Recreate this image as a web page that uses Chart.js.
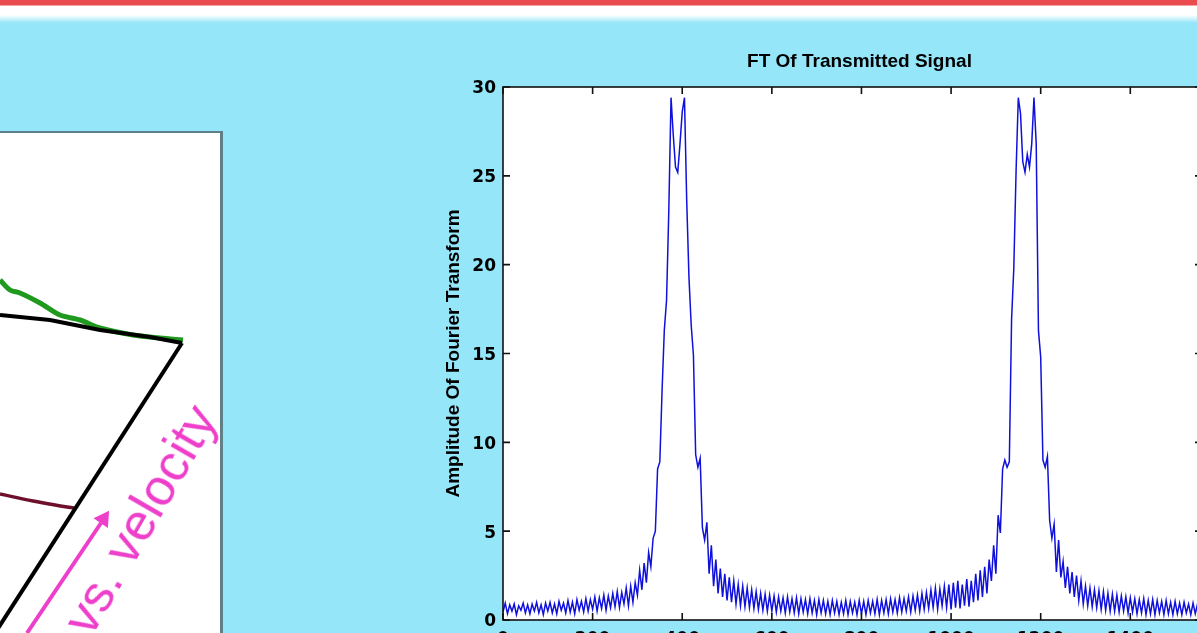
<!DOCTYPE html>
<html>
<head>
<meta charset="utf-8">
<script src="https://cdn.jsdelivr.net/npm/chart.js@4.4.1/dist/chart.umd.min.js"></script>
<style>
  html, body { margin: 0; padding: 0; width: 1197px; height: 633px; overflow: hidden; background: #95e6f9; }
  body { position: relative; font-family: 'Liberation Sans', Arial, sans-serif; }
  #topbar { position: absolute; left: 0; top: 0; width: 1197px; height: 24px;
    background: linear-gradient(#e94b4f 0, #e94b4f 5px, #ffffff 6px, #ffffff 15px, #95e6f9 23px); }
  #sketchBox { position: absolute; left: -10px; top: 131px; width: 230px; height: 520px; background: #fff;
    border-top: 2px solid #5f8089; border-right: 3px solid #5f8089; }
  #sketch { position: absolute; left: 0; top: 133px; }
  #velocity { position: absolute; left: 53px; top: 616px; transform-origin: 0 0; transform: rotate(-60deg);
    font: 52px 'Liberation Sans', Arial, sans-serif; line-height: 1; color: #ee3fcb; white-space: nowrap; }
  #fft { position: absolute; left: 420px; top: 41px; }
</style>
</head>
<body>
<div id="topbar"></div>
<div id="sketchBox"></div>
<canvas id="sketch" width="220" height="500"></canvas>
<div id="velocity">vs. velocity</div>
<canvas id="fft" width="800" height="619"></canvas>

<script>
// FT of transmitted signal, one value every 5 bins
const binStep = 5;
const amplitude = [
  0.45,0.95,0.35,0.85,0.5,0.9,0.3,0.8,0.55,0.95,
  0.4,0.85,0.35,0.9,0.5,1.0,0.4,0.85,0.3,0.95,
  0.5,1.0,0.4,0.9,0.35,1.05,0.55,0.95,0.4,1.1,
  0.45,1.0,0.35,1.15,0.55,1.05,0.45,1.2,0.5,1.15,
  0.6,1.3,0.5,1.25,0.65,1.4,0.55,1.35,0.7,1.5,
  0.75,1.6,0.7,1.55,0.9,1.8,0.8,1.9,1.0,2.1,
  1.4,2.8,1.7,3.2,2.1,3.8,3.0,4.6,5.0,8.5,
  8.9,12.9,16.3,18.0,23.0,29.4,27.3,25.5,25.2,26.8,
  28.6,29.4,23.6,19.3,16.6,14.9,9.3,8.6,9.1,5.2,
  4.5,5.5,2.6,4.2,1.9,3.4,1.5,2.9,1.3,2.6,
  1.1,2.4,1.0,2.2,0.9,2.0,0.8,1.9,0.75,1.8,
  0.7,1.7,0.65,1.6,0.6,1.5,0.55,1.45,0.5,1.4,
  0.5,1.35,0.45,1.3,0.5,1.25,0.4,1.3,0.45,1.2,
  0.4,1.25,0.35,1.2,0.45,1.15,0.35,1.2,0.4,1.1,
  0.3,1.15,0.4,1.1,0.35,1.05,0.3,1.1,0.4,1.05,
  0.3,1.0,0.35,1.1,0.3,1.05,0.4,1.0,0.3,1.1,
  0.35,1.05,0.3,1.1,0.4,1.05,0.35,1.15,0.3,1.1,
  0.4,1.15,0.35,1.2,0.45,1.15,0.4,1.25,0.45,1.2,
  0.5,1.3,0.45,1.35,0.55,1.4,0.5,1.5,0.6,1.55,
  0.65,1.7,0.7,1.8,0.6,1.75,0.8,1.9,0.7,2.0,
  0.6,2.1,0.7,2.2,0.65,2.0,0.8,2.3,0.75,2.2,
  1.0,2.6,1.1,2.8,1.3,3.0,1.5,3.4,2.2,4.2,
  2.6,5.9,4.9,8.5,9.0,8.6,8.9,16.9,19.8,25.2,
  29.4,28.5,25.8,25.2,26.2,25.5,26.8,29.4,26.8,16.3,
  14.8,9.0,8.6,9.2,5.6,4.6,5.4,2.7,4.5,2.4,
  3.3,1.8,3.0,1.5,2.7,1.3,2.5,1.1,2.2,0.9,
  1.9,0.8,1.8,0.75,1.7,0.7,1.65,0.6,1.6,0.55,
  1.5,0.5,1.45,0.5,1.4,0.45,1.35,0.5,1.3,0.4,
  1.25,0.45,1.2,0.35,1.15,0.4,1.2,0.3,1.1,0.35,
  1.15,0.3,1.1,0.4,1.05,0.3,1.1,0.35,1.0,0.3,
  1.05,0.35,0.95,0.3,1.0,0.4,0.9,0.3,0.95,0.35,
  0.9,0.4
];
const xTickValues = [0, 200, 400, 600, 800, 1000, 1200, 1400];
const yTickValues = [0, 5, 10, 15, 20, 25, 30];

// the cut-off sketch on the left of the slide (x right, y up, in panel pixels)
const greenX = [0, 10, 20, 40, 60, 80, 100, 133, 160, 183];
const greenY = [353, 343, 340, 330, 318, 313, 305, 298, 295, 293];
const blackTopX = [0, 50, 100, 150, 182];
const blackTopY = [318, 313, 303, 296, 290];
const blackDiagX = [182, -5];
const blackDiagY = [290, 0];
const redX = [0, 33, 55, 74];
const redY = [139, 132, 128, 125];
const arrowX = [27, 101];
const arrowY = [0, 110];
const arrowHead = { x: 103.5, y: 114 };

const fontFamily = "'Liberation Sans', Arial, sans-serif";
const tickFamily = "'DejaVu Sans', 'Liberation Sans', sans-serif";

const toPoints = (xs, ys) => xs.map((x, i) => ({ x: x, y: ys[i] }));

// white plot box, black frame, ticks pointing inwards, title over the box
const matlabFrame = {
    id: 'matlabFrame',
    beforeDatasetsDraw(chart) {
        const { ctx, chartArea: a } = chart;
        ctx.save();
        ctx.fillStyle = '#ffffff';
        ctx.fillRect(a.left, a.top, a.right - a.left, a.bottom - a.top);
        ctx.restore();
    },
    afterDatasetsDraw(chart) {
        const { ctx, chartArea: a, scales } = chart;
        const len = 7;
        ctx.save();
        ctx.strokeStyle = '#111111';
        ctx.lineWidth = 1.6;
        ctx.strokeRect(a.left, a.top, a.right - a.left, a.bottom - a.top);
        ctx.beginPath();
        scales.x.ticks.forEach(t => {
            const px = scales.x.getPixelForValue(t.value);
            ctx.moveTo(px, a.bottom); ctx.lineTo(px, a.bottom - len);
            ctx.moveTo(px, a.top); ctx.lineTo(px, a.top + len);
        });
        scales.y.ticks.forEach(t => {
            const py = scales.y.getPixelForValue(t.value);
            ctx.moveTo(a.left, py); ctx.lineTo(a.left + len, py);
            ctx.moveTo(a.right, py); ctx.lineTo(a.right - len, py);
        });
        ctx.stroke();

        ctx.fillStyle = '#000';
        ctx.font = 'bold 19px ' + fontFamily;
        ctx.textAlign = 'center';
        ctx.textBaseline = 'middle';
        ctx.fillText('FT Of Transmitted Signal', (a.left + a.right) / 2 + 7, a.top - 25);
        ctx.restore();
    }
};

new Chart(document.getElementById('fft'), {
    type: 'line',
    data: {
        datasets: [{
            data: amplitude.map((v, i) => ({ x: i * binStep, y: v })),
            borderColor: '#1010dc',
            borderWidth: 1.5,
            pointRadius: 0,
            fill: false,
            tension: 0
        }]
    },
    options: {
        responsive: false,
        animation: false,
        layout: { padding: { top: 46, right: 18 } },
        plugins: {
            legend: { display: false },
            tooltip: { enabled: false }
        },
        scales: {
            x: {
                type: 'linear',
                min: 0,
                max: 1560,
                afterBuildTicks: s => { s.ticks = xTickValues.map(v => ({ value: v })); },
                afterFit: s => { s.height = 40; },
                grid: { display: false, drawTicks: false },
                border: { display: false },
                ticks: {
                    color: '#000',
                    padding: 9,
                    maxRotation: 0,
                    autoSkip: false,
                    font: { family: tickFamily, size: 17, weight: 'bold' },
                    callback: v => String(v)
                }
            },
            y: {
                min: 0,
                max: 30,
                afterBuildTicks: s => { s.ticks = yTickValues.map(v => ({ value: v })); },
                afterFit: s => { s.width = 83; },
                grid: { display: false, drawTicks: false },
                border: { display: false },
                ticks: {
                    color: '#000',
                    padding: 7,
                    labelOffset: 2,
                    font: { family: tickFamily, size: 17, weight: 'bold' },
                    callback: v => String(v)
                },
                title: {
                    display: true,
                    text: 'Amplitude Of Fourier Transform',
                    color: '#000',
                    font: { family: fontFamily, size: 19, weight: 'bold' },
                    padding: { top: 22, bottom: 0 }
                }
            }
        }
    },
    plugins: [matlabFrame]
});

new Chart(document.getElementById('sketch'), {
    type: 'scatter',
    data: {
        datasets: [
            { data: toPoints(blackTopX, blackTopY), showLine: true, borderColor: '#000', borderWidth: 4, pointRadius: 0 },
            { data: toPoints(blackDiagX, blackDiagY), showLine: true, borderColor: '#000', borderWidth: 4, pointRadius: 0 },
            { data: toPoints(greenX, greenY), showLine: true, borderColor: '#1f9a1f', borderWidth: 5, pointRadius: 0, tension: 0.3 },
            { data: toPoints(redX, redY), showLine: true, borderColor: '#6e0f2c', borderWidth: 3.5, pointRadius: 0, tension: 0.4 },
            { data: toPoints(arrowX, arrowY), showLine: true, borderColor: '#ee3fcb', borderWidth: 4, pointRadius: 0 },
            { data: [arrowHead], pointStyle: 'triangle', rotation: 34, pointRadius: 10, backgroundColor: '#ee3fcb', borderWidth: 0 }
        ]
    },
    options: {
        responsive: false,
        animation: false,
        layout: { padding: 0, autoPadding: false },
        plugins: { legend: { display: false }, tooltip: { enabled: false } },
        scales: {
            x: { type: 'linear', min: 0, max: 220, display: false },
            y: { type: 'linear', min: 0, max: 500, display: false }
        }
    }
});
</script>
</body>
</html>
